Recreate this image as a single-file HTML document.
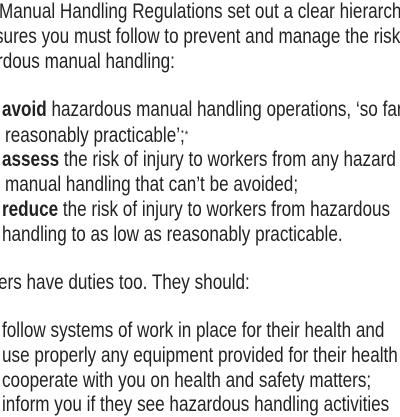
<!DOCTYPE html>
<html><head><meta charset="utf-8"><style>
html,body{margin:0;padding:0;background:#fff;}
body{width:400px;height:400px;overflow:hidden;position:relative;}
.l{position:absolute;white-space:nowrap;font-family:"Liberation Sans",sans-serif;font-size:21px;line-height:24px;color:#222;transform:scaleX(0.815);transform-origin:0 0;}
b{font-weight:bold;}
</style></head><body>
<div class="l" style="left:-1px;top:0px">Manual Handling Regulations set out a clear hierarchy</div>
<div class="l" style="left:-5px;top:25px">sures you must follow to prevent and manage the risk</div>
<div class="l" style="left:-3px;top:50px">rdous manual handling:</div>
<div class="l" style="left:2px;top:98px"><b>avoid</b> hazardous manual handling operations, ‘so far</div>
<div class="l" style="left:5px;top:123px">reasonably practicable’;<span style="font-size:11px;vertical-align:4px">*</span></div>
<div class="l" style="left:2px;top:148px"><b>assess</b> the risk of injury to workers from any hazard</div>
<div class="l" style="left:5px;top:173px">manual handling that can’t be avoided;</div>
<div class="l" style="left:2px;top:198px"><b>reduce</b> the risk of injury to workers from hazardous</div>
<div class="l" style="left:2px;top:223px">handling to as low as reasonably practicable.</div>
<div class="l" style="left:-2px;top:271px">ers have duties too. They should:</div>
<div class="l" style="left:2px;top:319px">follow systems of work in place for their health and</div>
<div class="l" style="left:2px;top:344px">use properly any equipment provided for their health and</div>
<div class="l" style="left:2px;top:369px">cooperate with you on health and safety matters;</div>
<div class="l" style="left:2px;top:393px">inform you if they see hazardous handling activities</div>
</body></html>
